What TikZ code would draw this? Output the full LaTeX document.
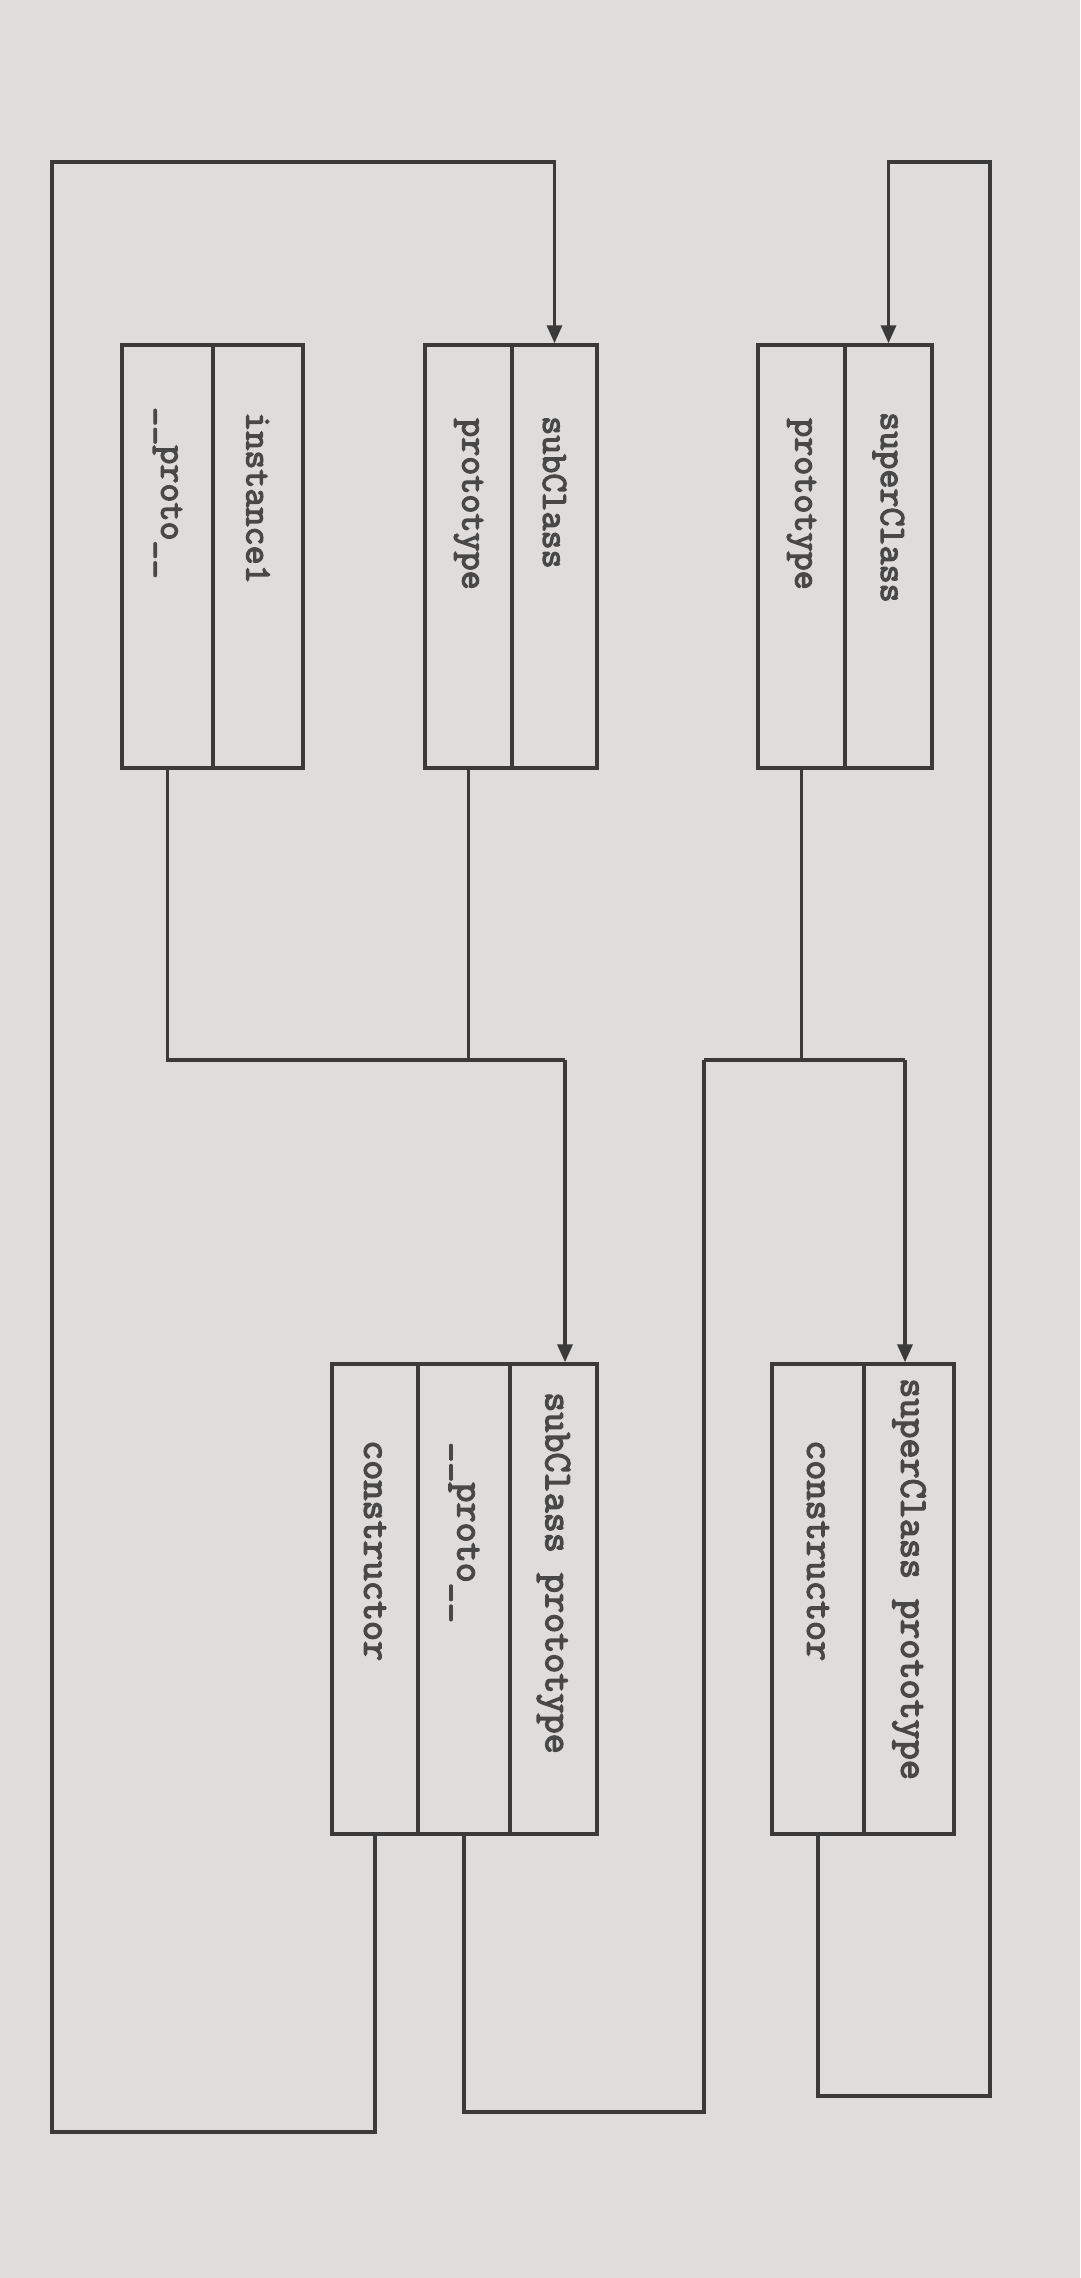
\documentclass[tikz,border=0pt]{standalone}
\usepackage{fontspec}
\newfontfamily\labfont[FakeBold=3.5]{Latin Modern Mono}
\usetikzlibrary{arrows.meta}
\definecolor{paper}{RGB}{222,221,220}
\definecolor{ink}{RGB}{58,58,58}
\definecolor{txt}{RGB}{72,72,72}
\begin{document}
\begin{tikzpicture}[x=1pt,y=-1pt,
  cellU/.style={draw=ink, line width=3.5pt, minimum width=#1, minimum height=423pt, inner sep=0pt},
  cellL/.style={draw=ink, line width=3.5pt, minimum width=#1, minimum height=470pt, inner sep=0pt},
  lab/.style={rotate=-90, anchor=west, inner sep=0pt, text=txt,
    font=\labfont\fontsize{37}{37}\selectfont},
  labL/.style={lab, font=\labfont\fontsize{39}{39}\selectfont},
  conn/.style={draw=ink, line width=3.5pt},
  arr/.style={conn, -{Triangle[length=18pt,width=15pt]}}]
\useasboundingbox (0,0) rectangle (1080,2278);
\fill[paper] (0,0) rectangle (1080,2278);

% upper boxes
\node[cellU=91pt] (instP) at (167.5,556.5) {};
\node[cellU=90pt] (instN) at (258,556.5) {};
\node[cellU=87pt] (subP) at (468.5,556.5) {};
\node[cellU=85pt] (subN) at (554.5,556.5) {};
\node[cellU=87pt] (supP) at (801.5,556.5) {};
\node[cellU=87pt] (supN) at (888.5,556.5) {};

% lower boxes
\node[cellL=86pt] (spC) at (375,1599) {};
\node[cellL=92pt] (spP) at (464,1599) {};
\node[cellL=87pt] (spN) at (553.5,1599) {};
\node[cellL=92pt] (uppC) at (818,1599) {};
\node[cellL=90pt] (uppN) at (909,1599) {};

% labels
\node[lab] (tInstN) at (258,412) {instance1};
\node[lab] (tInstP) at (167.5,407) {\_\_proto\_\_};
\node[lab] (tSubN) at (554.5,416) {subClass};
\node[lab] (tSubP) at (468.5,418) {prototype};
\node[lab] (tSupN) at (888.5,412) {superClass};
\node[lab] (tSupP) at (801.5,418) {prototype};
\node[labL] (tSpN) at (553.5,1392) {subClass prototype};
\node[labL] (tSpP) at (464,1442) {\_\_proto\_\_};
\node[labL] (tSpC) at (375,1440) {constructor};
\node[labL] (tUppN) at (909,1378) {superClass prototype};
\node[labL] (tUppC) at (818,1440) {constructor};

% bend points
\coordinate (j1) at (565,1060);
\coordinate (j2) at (704,1060);
\coordinate (j3) at (905,1060);
\coordinate (b2) at (704,2112);
\coordinate (lb) at (52,2132);
\coordinate (lt) at (52,162);
\coordinate (rb) at (990,2096);
\coordinate (rt) at (990,162);

% instance1.__proto__ and subClass.prototype -> subClass prototype
\draw[conn] (instP.south) |- (j1);
\draw[conn] (subP.south) -- (subP.south |- j1);
\draw[arr] (j1) -- (j1 |- spN.north);

% superClass.prototype and subClass prototype.__proto__ -> superClass prototype
\draw[conn] (supP.south) -- (supP.south |- j2);
\draw[conn] (j2) -- (j3);
\draw[arr] (j3) -- (j3 |- uppN.north);
\draw[conn] (spP.south) |- (b2) -- (j2);

% constructors
\draw[arr] (spC.south) |- (lb) -- (lt) -| (subN.north);
\draw[arr] (uppC.south) |- (rb) -- (rt) -| (supN.north);
\end{tikzpicture}
\end{document}
